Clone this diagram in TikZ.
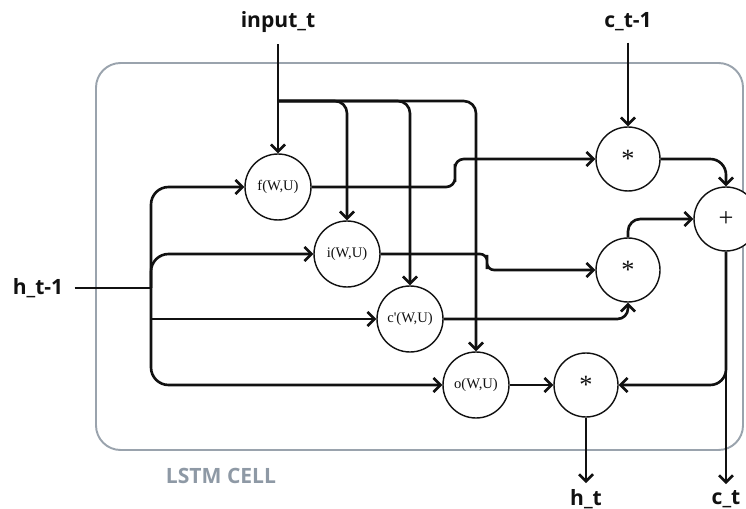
\documentclass[tikz,border=0pt]{standalone}
\usepackage{fontspec}
\setmainfont{Liberation Serif}
\newfontfamily\labelfont{Open Sans}
\usetikzlibrary{arrows.meta,positioning}
\definecolor{Ink}{HTML}{111111}
\definecolor{Frame}{HTML}{9AA3AD}
\definecolor{CellText}{HTML}{8E99A5}
\tikzset{
 every node/.style={text=Ink},
 wire/.style={line width=1.5pt,draw=Ink},
 flow/.style={wire,-{Straight Barb[length=1.4mm,width=2.8mm]}},
 gate/.style={circle,draw=Ink,line width=.8pt,fill=white,minimum size=1.32cm,inner sep=0pt,font=\fontsize{8.3}{10}\selectfont},
 op/.style={gate,minimum size=1.28cm,font=\fontsize{15}{17}\selectfont},
 io/.style={font=\labelfont\bfseries\fontsize{12}{14}\selectfont},
 }

\begin{document}
\begin{tikzpicture}[x=.02cm,y=-.02cm]
 \useasboundingbox(0,0)rectangle(746,509);
 % cell frame
 \draw[Frame,line width=1.1pt,rounded corners=14pt](96,63)rectangle(743,450);
 \node[io,text=CellText] (cell) at (221,476) {LSTM CELL};
 % inputs and outputs
 \node[io] (in) at (278,22) {input\_t};
 \node[io] (cprev) at (628,22) {c\_t-1};
 \node[io] (hprev) at (38,288) {h\_t-1};
 \node[io] (hnext) at (586,499) {h\_t};
 \node[io] (cnext) at (726,499) {c\_t};
 % gates
 \node[gate] (f) at (278,187) {f(W,U)};
 \node[gate] (i) at (347,254) {i(W,U)};
 \node[gate] (c) at (410,319) {c\textquotesingle(W,U)};
 \node[gate] (o) at (476,385) {o(W,U)};
 \node[op] (mf) at (628,159) {*};
 \node[op] (mi) at (628,270) {*};
 \node[op] (add) at (726,219) {+};
 \node[op] (mo) at (586,385) {*};
 \coordinate (ij) at (278,101);
 \coordinate (hj) at (151,288);
 \coordinate (fjog) at (455,173);
 \coordinate (ijog) at (487,262);
 % input_t
 \draw[flow,shorten <=3pt] (in) -- (f);
 \foreach \g in {i,c,o}{
 \draw[flow,rounded corners=7pt] (ij) -| (\g);}
 % h_t-1
 \draw[wire,shorten <=3pt] (hprev) -- (hj);
 \foreach \g in {f,i,o}{
 \draw[flow,rounded corners=10pt] (hj) |- (\g);}
 \draw[flow] (hj |- c) -- (c);
 % gate outputs
 \draw[flow,rounded corners=5pt] (f) -| (fjog) |- (mf);
 \draw[flow,rounded corners=4pt] (i) -| (ijog) |- (mi);
 \draw[flow,rounded corners=6pt] (c) -| (mi);
 \draw[flow] (o) -- (mo);
 % cell state
 \draw[flow,shorten <=3pt] (cprev) -- (mf);
 \draw[flow,rounded corners=9pt] (mf) -| (add);
 \draw[flow,rounded corners=7pt] (mi) |- (add);
 \draw[flow] (add) -- (cnext);
 \draw[flow,rounded corners=9pt] (add) |- (mo);
 \draw[flow] (mo) -- (hnext);
\end{tikzpicture}
\end{document}
